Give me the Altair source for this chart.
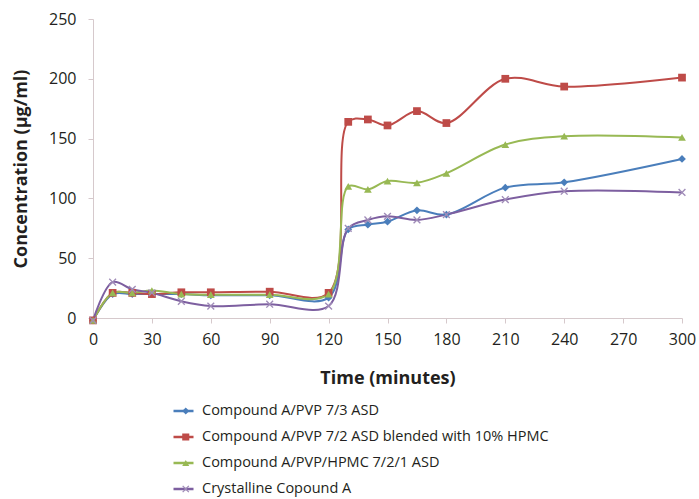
import altair as alt
import pandas as pd

times = [0, 10, 20, 30, 45, 60, 90, 120, 130, 140, 150, 165, 180, 210, 240, 300]
series_names = [
    "Compound A/PVP 7/3 ASD",
    "Compound A/PVP 7/2 ASD blended with 10% HPMC",
    "Compound A/PVP/HPMC 7/2/1 ASD",
    "Crystalline Copound A",
]
blue_vals = [-2, 20, 20, 20, 20, 19, 19, 17, 74, 78, 80.5, 90, 86.5, 109, 113.5, 133]
red_vals = [-2, 21, 21, 20, 21.5, 21.5, 22, 21, 164, 166, 161, 173, 163, 200, 193.5, 201]
green_vals = [-2, 21, 21, 23, 20, 19.5, 19.5, 20, 110, 107.5, 114.5, 113, 121, 145, 152, 151]
purple_vals = [-2, 30, 24, 21, 14, 10, 11.5, 10, 75, 82, 85, 82, 86.5, 99, 106, 105]

colors = ["#4a7ebb", "#be4b48", "#98b954", "#7d5fa0"]
marker_colors = ["#4a7ebb", "#be4b48", "#98b954", "#a08cb8"]
XMARK = "M-1,-0.75L-0.75,-1L0,-0.25L0.75,-1L1,-0.75L0.25,0L1,0.75L0.75,1L0,0.25L-0.75,1L-1,0.75L-0.25,0Z"
shapes = ["diamond", "square", "triangle-up", XMARK]

rows = []
for name, vals in zip(series_names, [blue_vals, red_vals, green_vals, purple_vals]):
    for t, v in zip(times, vals):
        rows.append({"time": t, "conc": v, "series": name, "series2": name})
df = pd.DataFrame(rows)

FONT = "Open Sans"
LEG_Y = 384

x = alt.X("time:Q", title="Time (minutes)",
          scale=alt.Scale(domain=[0, 300], nice=False),
          axis=alt.Axis(values=list(range(0, 301, 30)), grid=False, labelFlush=False,
                        labelFontSize=16, labelPadding=8, tickSize=5,
                        titleFontSize=18, titleFontWeight="bold", titlePadding=22))
y = alt.Y("conc:Q", title="Concentration (µg/ml)",
          scale=alt.Scale(domain=[0, 250], nice=False),
          axis=alt.Axis(values=list(range(0, 251, 50)), grid=False,
                        labelFontSize=16, labelPadding=12, tickSize=5,
                        titleFontSize=18, titleFontWeight="bold", titlePadding=18))

common_leg = dict(orient="none", title=None, labelFontSize=14.5, labelFont=FONT,
                  labelColor="#231f20", rowPadding=10, padding=0, clipHeight=16,
                  labelLimit=600)

lines = alt.Chart(df).mark_line(interpolate="catmull-rom", strokeWidth=2, clip=False).encode(
    x=x, y=y,
    color=alt.Color("series:N", scale=alt.Scale(domain=series_names, range=colors),
                    sort=series_names,
                    legend=alt.Legend(legendX=79, legendY=LEG_Y,
                                      symbolType="stroke", symbolStrokeWidth=2.5,
                                      symbolSize=400, labelOffset=7, **common_leg)),
)

points = alt.Chart(df).mark_point(filled=True, size=60, opacity=1, clip=False).encode(
    x="time:Q", y="conc:Q",
    color=alt.Color("series2:N", scale=alt.Scale(domain=series_names, range=marker_colors),
                    sort=series_names,
                    legend=alt.Legend(legendX=85.5, legendY=LEG_Y, symbolSize=50,
                                      symbolOpacity=1, labelExpr="''", labelOffset=0,
                                      **common_leg)),
    shape=alt.Shape("series2:N", scale=alt.Scale(domain=series_names, range=shapes),
                    sort=series_names,
                    legend=alt.Legend(legendX=85.5, legendY=LEG_Y, symbolSize=50,
                                      symbolOpacity=1, labelExpr="''", labelOffset=0,
                                      **common_leg)),
)

chart = alt.layer(lines, points).resolve_scale(color="independent", shape="independent").properties(
    width=589, height=299,
    autosize=alt.AutoSizeParams(type="none"),
    padding={"left": 93, "top": 19, "right": 17, "bottom": 181},
).configure_axis(
    domainColor="#d6c9cc", tickColor="#d6c9cc", labelColor="#231f20", titleColor="#231f20",
    labelFont=FONT, titleFont=FONT,
).configure_view(stroke=None)

chart.save("out.html", embed_options={"renderer": "svg", "actions": False})
